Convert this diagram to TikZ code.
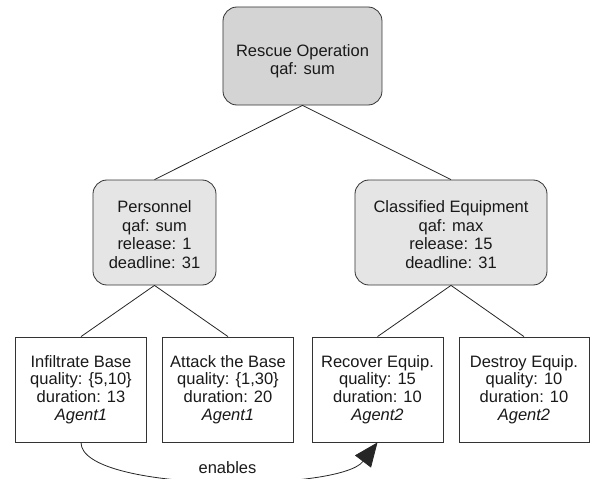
\documentclass[tikz,border=0pt]{standalone}
\usepackage{fontspec}
\setmainfont{Liberation Sans}
\usetikzlibrary{positioning,arrows.meta}

\begin{document}
\begin{tikzpicture}[on grid,
    every node/.style={font=\fontsize{16.5}{17.6}\selectfont,align=center,inner sep=0pt,text=black!90},
    group/.style={draw=black!80,line width=0.8pt,rounded corners=14pt,fill=black!10,minimum height=105pt,
        font=\fontsize{16.5}{18.5}\selectfont},
    leaf/.style={draw=black!80,line width=0.8pt,fill=white,minimum width=131pt,minimum height=105pt},
    edge/.style={draw=black!85,line width=0.8pt}]
    \useasboundingbox (-302.5pt,56pt) rectangle (287.5pt,-423pt);
    \node[group,fill=black!17,minimum width=159pt,minimum height=98pt] (rescue) {\rule{0pt}{22pt}Rescue Operation\\qaf: sum};
    \node[group,minimum width=123pt] (pers) [below left=176.5pt and 148pt of rescue] {\rule{0pt}{16pt}Personnel\\qaf: sum\\release: 1\\deadline: 31};
    \node[group,minimum width=192pt] (equip) [below right=176.5pt and 148.5pt of rescue] {\rule{0pt}{16pt}Classified Equipment\\qaf: max\\release: 15\\deadline: 31};
    \node[leaf] (infil) [below left=157pt and 73.5pt of pers] {Infiltrate Base\\quality: \{5,10\}\\duration: 13\\\textit{Agent1}};
    \node[leaf] (attack) [below right=157pt and 73.5pt of pers] {Attack the Base\\quality: \{1,30\}\\duration: 20\\\textit{Agent1}};
    \node[leaf] (recov) [below left=157pt and 73.5pt of equip] {Recover Equip.\\quality: 15\\duration: 10\\\textit{Agent2}};
    \node[leaf,minimum width=130pt] (destroy) [below right=157pt and 73pt of equip] {Destroy Equip.\\quality: 10\\duration: 10\\\textit{Agent2}};
    \path[edge]
        (rescue.south) -- (pers.north)
        (rescue.south) -- (equip.north)
        (pers.south) -- (infil.north)
        (pers.south) -- (attack.north)
        (equip.south) -- (recov.north)
        (equip.south) -- (destroy.north);
    % enables relation
    \draw[edge,-{Triangle[length=24pt,width=20pt]}] (infil.south) .. controls +(0,-50pt) and +(-38pt,-50pt) .. (recov.south)
        node[pos=0.53,above=6pt] (enb) {enables};
\end{tikzpicture}
\end{document}
